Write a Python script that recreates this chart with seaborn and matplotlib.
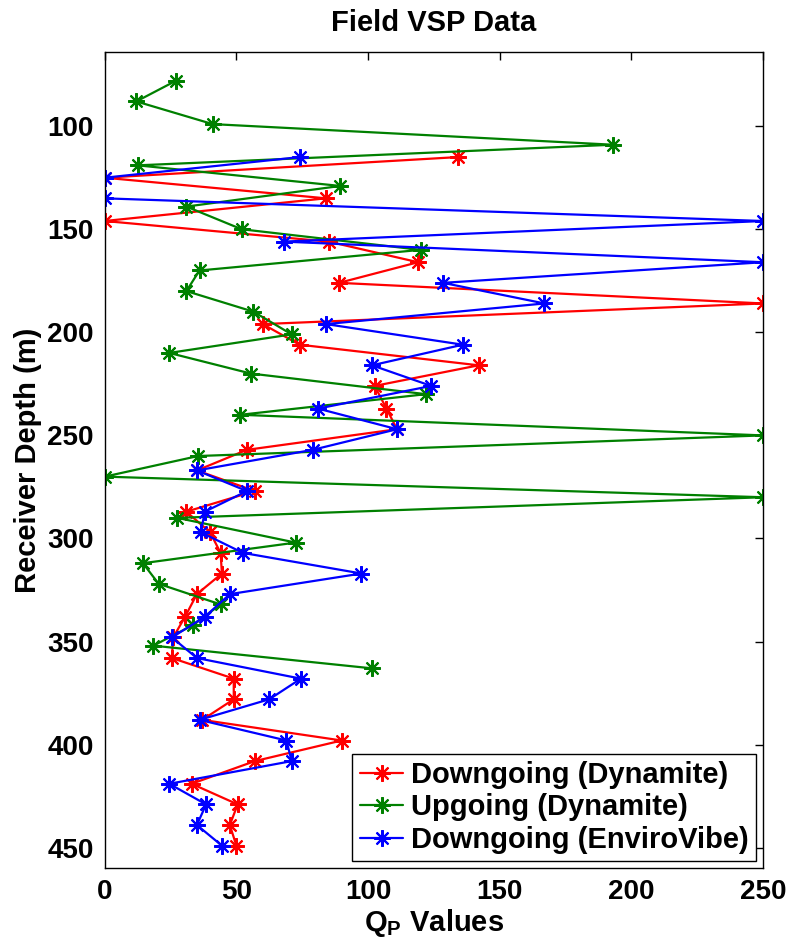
import matplotlib
matplotlib.use("Agg")
import matplotlib.pyplot as plt
import pandas as pd
import seaborn as sns

# Receiver depths (m) and Q_P estimates for each wavefield
depth_dyn = [115, 125, 135, 146, 156, 166, 176, 186, 196, 206, 216, 226, 237, 247,
             257, 267, 277, 287, 297, 307, 317, 327, 338, 348, 358, 368, 378, 388,
             398, 408, 419, 429, 439, 449]
q_down_dyn = [134, 0, 84, 0, 85, 119, 89, 250, 60, 74, 142, 102.5, 107, 111,
              54, 35, 57, 31, 40, 44, 44.5, 35, 30.5, 26, 25.5, 49, 49, 37,
              90, 57, 33, 50.5, 47.5, 50]
q_down_vibe = [74, 0, 0, 250, 68, 250, 128.5, 167, 84, 136, 101.5, 124, 81, 111,
               79, 35, 54, 38, 36.5, 52.5, 97.5, 47.5, 38, 25.5, 35, 74.5, 62.5, 36,
               69, 71, 24.5, 38.5, 35, 44.5]
depth_up = [78, 88, 99, 109, 119, 129, 139, 150, 160, 170, 180, 190, 201, 210, 220,
            230, 240, 250, 260, 270, 280, 290, 302, 312, 322, 332, 342, 352, 363]
q_up_dyn = [27, 12, 41, 193, 12.5, 89.5, 31, 52, 120, 36, 31, 56.5, 71, 24.5, 55.5,
            122, 51.5, 250, 35.5, 0, 250, 27.5, 72.5, 14.5, 20.5, 44, 33.5, 18.5, 101.5]

series_names = ["Downgoing (Dynamite)", "Upgoing (Dynamite)", "Downgoing (EnviroVibe)"]
series_colors = ["#ff0000", "#008000", "#0000ff"]
x_ticks = [0, 50, 100, 150, 200, 250]
y_ticks = [100, 150, 200, 250, 300, 350, 400, 450]

frames = [
    pd.DataFrame({"q": q_down_dyn, "depth": depth_dyn, "series": series_names[0]}),
    pd.DataFrame({"q": q_up_dyn, "depth": depth_up, "series": series_names[1]}),
    pd.DataFrame({"q": q_down_vibe, "depth": depth_dyn, "series": series_names[2]}),
]

sns.set_style("white")
plt.rcParams["font.family"] = ["Liberation Sans", "DejaVu Sans"]
plt.rcParams["font.weight"] = "bold"
plt.rcParams["text.color"] = "black"
plt.rcParams["axes.labelcolor"] = "black"
plt.rcParams["xtick.color"] = "black"
plt.rcParams["ytick.color"] = "black"
plt.rcParams["mathtext.fontset"] = "custom"
plt.rcParams["mathtext.rm"] = "Liberation Sans:bold"
plt.rcParams["mathtext.it"] = "Liberation Sans:bold"
plt.rcParams["mathtext.bf"] = "Liberation Sans:bold"

fig = plt.figure(figsize=(7.88, 9.43), dpi=100)
fig.patch.set_facecolor("white")
ax = fig.add_axes([0.1329, 0.0792, 0.8354, 0.8657])

asterisk = (8, 2, 0)
for df, name, col in zip(frames, series_names, series_colors):
    sns.lineplot(data=df, x="q", y="depth", sort=False, estimator=None, ax=ax,
                 color=col, linewidth=1.6, marker=asterisk, markersize=12,
                 markeredgewidth=1.5, markeredgecolor=col, label=name)

ax.set_xlim(0, 250)
ax.set_ylim(460, 64)
ax.set_xticks(x_ticks)
ax.set_yticks(y_ticks)
ax.tick_params(direction="in", length=6, width=1, top=True, right=True,
               labelsize=20, pad=8, colors="black")
for lab in ax.get_xticklabels() + ax.get_yticklabels():
    lab.set_fontweight("bold")
for sp in ax.spines.values():
    sp.set_color("black")
    sp.set_linewidth(1)

ax.set_title("Field VSP Data", fontsize=21, fontweight="bold", pad=15, color="black")
ax.set_xlabel(r"Q$_{\mathrm{P}}$ Values", fontsize=21, fontweight="bold", labelpad=1)
ax.set_ylabel("Receiver Depth (m)", fontsize=21, fontweight="bold", labelpad=4)

leg = ax.legend(loc="lower right", fontsize=21, frameon=True, fancybox=False,
                edgecolor="black", framealpha=1, borderaxespad=0.25, borderpad=0.25,
                handlelength=1.5, handletextpad=0.25, labelspacing=0.15)
leg.get_frame().set_linewidth(1)
for t in leg.get_texts():
    t.set_fontweight("bold")
    t.set_color("black")

fig.savefig("out.png", dpi=100, facecolor="white")
